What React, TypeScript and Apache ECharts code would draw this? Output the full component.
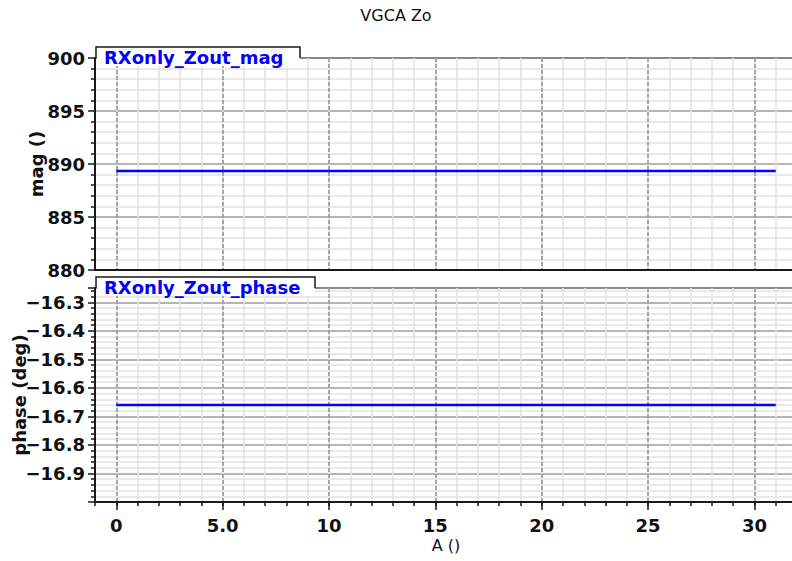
import React, { useEffect, useRef } from "react";
import * as echarts from "echarts";

// Sweep variable A () and the measured output impedance
const X_VALUES = [
  0, 1, 2, 3, 4, 5, 6, 7, 8, 9, 10, 11, 12, 13, 14, 15,
  16, 17, 18, 19, 20, 21, 22, 23, 24, 25, 26, 27, 28, 29, 30, 31,
];
const MAG_VALUES = [
  889.35, 889.35, 889.35, 889.35, 889.35, 889.35, 889.35, 889.35,
  889.35, 889.35, 889.35, 889.35, 889.35, 889.35, 889.35, 889.35,
  889.35, 889.35, 889.35, 889.35, 889.35, 889.35, 889.35, 889.35,
  889.35, 889.35, 889.35, 889.35, 889.35, 889.35, 889.35, 889.35,
];
const PHASE_VALUES = [
  -16.66, -16.66, -16.66, -16.66, -16.66, -16.66, -16.66, -16.66,
  -16.66, -16.66, -16.66, -16.66, -16.66, -16.66, -16.66, -16.66,
  -16.66, -16.66, -16.66, -16.66, -16.66, -16.66, -16.66, -16.66,
  -16.66, -16.66, -16.66, -16.66, -16.66, -16.66, -16.66, -16.66,
];

const X_TICKS = [0, 5, 10, 15, 20, 25, 30];
const X_TICK_LABELS = ["0", "5.0", "10", "15", "20", "25", "30"];

const TITLE = "VGCA Zo";
const MAG_TRACE = "RXonly_Zout_mag";
const PHASE_TRACE = "RXonly_Zout_phase";

const FONT = '"DejaVu Sans", Verdana, sans-serif';
const AXIS_DARK = "#1a1a1a";
const MINOR_GRID = "#e2e2e2";
const MAJOR_GRID = "#9c9c9c";
const TRACE_BLUE = "#0000ff";

const X_MIN = -1;
const X_MAX = 32;

const tickLabelStyle = {
  fontFamily: FONT,
  fontWeight: "bold" as const,
  fontSize: 18,
  color: "#111",
};

function minorXAxis(gridIndex: number, withTicks: boolean) {
  return {
    type: "value",
    gridIndex,
    min: X_MIN,
    max: X_MAX,
    interval: 1,
    position: "bottom",
    axisLine: { show: true, onZero: false, lineStyle: { color: AXIS_DARK, width: 2 } },
    axisTick: { show: withTicks, length: 4, lineStyle: { color: AXIS_DARK, width: 1.5 } },
    axisLabel: { show: false },
    splitLine: { show: true, lineStyle: { color: MINOR_GRID, width: 1.5 } },
  };
}

function majorXAxis(gridIndex: number, withLabels: boolean) {
  return {
    type: "value",
    gridIndex,
    min: X_MIN,
    max: X_MAX,
    position: "bottom",
    axisLine: { show: false, onZero: false },
    axisTick: {
      show: withLabels,
      length: 8,
      customValues: X_TICKS,
      lineStyle: { color: AXIS_DARK, width: 1.5 },
    },
    axisLabel: {
      show: withLabels,
      customValues: X_TICKS,
      margin: 14,
      ...tickLabelStyle,
      formatter: (v: number) => {
        const i = X_TICKS.indexOf(v);
        return i >= 0 ? X_TICK_LABELS[i] : "";
      },
    },
    splitLine: {
      show: true,
      lineStyle: { color: "#909090", width: 1.5, type: [4, 2] },
    },
    name: withLabels ? "A ()" : "",
    nameLocation: "middle",
    nameGap: 35,
    nameMoveOverlap: false,
    nameTextStyle: { fontFamily: FONT, fontSize: 16, color: "#111" },
  };
}

function tab(x: number, y: number, w: number, h: number, label: string) {
  return [
    {
      type: "rect",
      z: 100,
      shape: { x: x + 1, y, width: w - 1, height: h + 8 },
      style: { fill: "#fff" },
    },
    {
      type: "polyline",
      z: 101,
      shape: {
        points: [
          [x, y + h],
          [x, y],
          [x + w, y],
          [x + w, y + h],
        ],
      },
      style: { stroke: AXIS_DARK, lineWidth: 1.5, fill: "none" },
    },
    {
      type: "text",
      z: 102,
      x: x + 8,
      y: y + 10,
      style: {
        text: label,
        fill: TRACE_BLUE,
        font: `bold 18px ${FONT}`,
        verticalAlign: "middle",
        align: "left",
      },
    },
  ];
}

function yAxisBase() {
  return {
    type: "value",
    axisLine: { show: true, onZero: false, lineStyle: { color: AXIS_DARK, width: 2 } },
    axisTick: { show: true, length: 7, lineStyle: { color: AXIS_DARK, width: 1.5 } },
    minorTick: { show: true, splitNumber: 5, length: 4, lineStyle: { color: AXIS_DARK, width: 1.5 } },
    splitLine: { show: true, lineStyle: { color: MAJOR_GRID, width: 1.5 } },
    minorSplitLine: { show: true, lineStyle: { color: MINOR_GRID, width: 1.5 } },
    nameLocation: "middle",
    nameMoveOverlap: false,
    nameTextStyle: { fontFamily: FONT, fontSize: 18, fontWeight: "bold", color: "#111" },
  };
}

export default function App() {
  const ref = useRef<HTMLDivElement>(null);

  useEffect(() => {
    if (!ref.current) return;
    const chart = echarts.init(ref.current, null, { renderer: "svg" });

    const magData = X_VALUES.map((x, i) => [x, MAG_VALUES[i]]);
    const phaseData = X_VALUES.map((x, i) => [x, PHASE_VALUES[i]]);

    const gridBase = {
      left: 95,
      width: 702,
      show: true,
      borderColor: AXIS_DARK,
      borderWidth: 1.5,
      backgroundColor: "transparent",
      containLabel: false,
      outerBoundsMode: "none",
    };

    chart.setOption({
      animation: false,
      backgroundColor: "#fff",
      title: {
        text: TITLE,
        left: "center",
        top: 2,
        textStyle: { fontFamily: FONT, fontSize: 16, fontWeight: "normal", color: "#111" },
      },
      grid: [
        { ...gridBase, top: 58, height: 212 },
        { ...gridBase, top: 288, height: 214 },
      ],
      xAxis: [
        minorXAxis(0, false),
        majorXAxis(0, false),
        minorXAxis(1, true),
        majorXAxis(1, true),
      ],
      yAxis: [
        {
          ...yAxisBase(),
          gridIndex: 0,
          min: 880,
          max: 900,
          interval: 5,
          axisLabel: { margin: 10, ...tickLabelStyle },
          name: "mag ()",
          nameGap: 50,
        },
        {
          ...yAxisBase(),
          gridIndex: 1,
          min: -17,
          max: -16.25,
          interval: 0.1,
          axisLabel: {
            margin: 10,
            showMinLabel: false,
            showMaxLabel: false,
            ...tickLabelStyle,
            formatter: (v: number) => v.toFixed(1).replace("-", "\u2212"),
          },
          name: "phase (deg)",
          nameGap: 67,
        },
      ],
      graphic: [
        ...tab(96, 47, 204, 11, MAG_TRACE),
        ...tab(96, 277, 219, 11, PHASE_TRACE),
      ],
      series: [
        {
          name: MAG_TRACE,
          type: "line",
          xAxisIndex: 0,
          yAxisIndex: 0,
          data: magData,
          showSymbol: false,
          lineStyle: { color: TRACE_BLUE, width: 2.5 },
          z: 5,
        },
        {
          name: PHASE_TRACE,
          type: "line",
          xAxisIndex: 2,
          yAxisIndex: 1,
          data: phaseData,
          showSymbol: false,
          lineStyle: { color: TRACE_BLUE, width: 2.5 },
          z: 5,
        },
      ],
    });

    return () => chart.dispose();
  }, []);

  return (
    <div
      ref={ref}
      style={{ position: "absolute", left: 0, top: 0, width: 792, height: 561 }}
    />
  );
}
